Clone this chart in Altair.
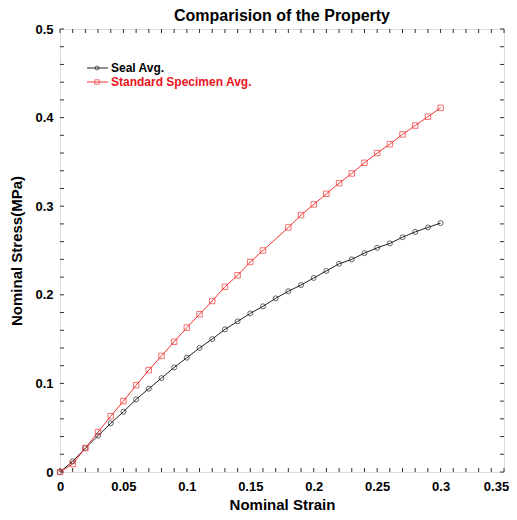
import altair as alt
import pandas as pd

# ---- data ----
seal_strain = [0.00, 0.01, 0.02, 0.03, 0.04, 0.05, 0.06, 0.07, 0.08, 0.09, 0.10,
               0.11, 0.12, 0.13, 0.14, 0.15, 0.16, 0.17, 0.18, 0.19, 0.20,
               0.21, 0.22, 0.23, 0.24, 0.25, 0.26, 0.27, 0.28, 0.29, 0.30]
seal_stress = [0.000, 0.012, 0.027, 0.041, 0.055, 0.068, 0.082, 0.094, 0.106, 0.118, 0.129,
               0.140, 0.150, 0.161, 0.170, 0.179, 0.187, 0.196, 0.204, 0.211, 0.219,
               0.227, 0.235, 0.240, 0.247, 0.253, 0.258, 0.265, 0.271, 0.276, 0.281]

std_strain = [0.00, 0.01, 0.02, 0.03, 0.04, 0.05, 0.06, 0.07, 0.08, 0.09, 0.10,
              0.11, 0.12, 0.13, 0.14, 0.15, 0.16, 0.18, 0.19, 0.20,
              0.21, 0.22, 0.23, 0.24, 0.25, 0.26, 0.27, 0.28, 0.29, 0.30]
std_stress = [0.000, 0.009, 0.027, 0.045, 0.063, 0.080, 0.098, 0.115, 0.131, 0.147, 0.163,
              0.178, 0.193, 0.209, 0.222, 0.237, 0.250, 0.276, 0.290, 0.302,
              0.314, 0.326, 0.337, 0.349, 0.360, 0.370, 0.381, 0.391, 0.401, 0.411]

series_names = ["Seal Avg.", "Standard Specimen Avg."]

x_label_values = [0, 0.05, 0.1, 0.15, 0.2, 0.25, 0.3, 0.35]
y_label_values = [0, 0.1, 0.2, 0.3, 0.4, 0.5]
x_tick_values = [0.00, 0.01, 0.02, 0.03, 0.04, 0.05, 0.06, 0.07, 0.08, 0.09, 0.10,
                 0.11, 0.12, 0.13, 0.14, 0.15, 0.16, 0.17, 0.18, 0.19, 0.20,
                 0.21, 0.22, 0.23, 0.24, 0.25, 0.26, 0.27, 0.28, 0.29, 0.30,
                 0.31, 0.32, 0.33, 0.34, 0.35]
y_tick_values = [0.00, 0.02, 0.04, 0.06, 0.08, 0.10, 0.12, 0.14, 0.16, 0.18, 0.20,
                 0.22, 0.24, 0.26, 0.28, 0.30, 0.32, 0.34, 0.36, 0.38, 0.40,
                 0.42, 0.44, 0.46, 0.48, 0.50]

# ---- styling ----
FONT = "Liberation Sans"
W, H = 444, 443
BLACK = "#222222"
RED = "#f03535"
RED_TEXT = "#e8141c"
TICK = 4

seal_df = pd.DataFrame({"strain": seal_strain, "stress": seal_stress, "series": series_names[0]})
std_df = pd.DataFrame({"strain": std_strain, "stress": std_stress, "series": series_names[1]})
xt_df = pd.DataFrame({"strain": x_tick_values})
yt_df = pd.DataFrame({"stress": y_tick_values})

xscale = alt.Scale(domain=[0, 0.35], nice=False, zero=False)
yscale = alt.Scale(domain=[0, 0.5], nice=False, zero=False)

xaxis = alt.Axis(values=x_label_values, format="~g", ticks=False, domain=False, grid=False,
                 labelFlush=False, labelOverlap=False,
                 labelOffset={"condition": {"test": "datum.value >= 0.34", "value": -8}, "value": 0},
                 labelFont=FONT, labelFontSize=13, labelFontWeight="bold", labelColor="black",
                 labelPadding=8, title="Nominal Strain", titleFont=FONT, titleFontSize=15,
                 titleFontWeight="bold", titleColor="black", titlePadding=4)
yaxis = alt.Axis(values=y_label_values, format="~g", ticks=False, domain=False, grid=False,
                 labelFlush=False, labelOverlap=False,
                 labelFont=FONT, labelFontSize=13, labelFontWeight="bold", labelColor="black",
                 labelPadding=7, title="Nominal Stress(MPa)", titleFont=FONT, titleFontSize=15,
                 titleFontWeight="bold", titleColor="black", titlePadding=10)

X = alt.X("strain:Q", scale=xscale, axis=xaxis)
Y = alt.Y("stress:Q", scale=yscale, axis=yaxis)

# inward ticks on all four sides
tick_bottom = alt.Chart(xt_df).mark_rule(color="#333", strokeWidth=1).encode(
    x=X, y=alt.value(H), y2=alt.value(H - TICK))
tick_top = alt.Chart(xt_df).mark_rule(color="#333", strokeWidth=1).encode(
    x=X, y=alt.value(0), y2=alt.value(TICK))
tick_left = alt.Chart(yt_df).mark_rule(color="#333", strokeWidth=1).encode(
    y=Y, x=alt.value(0), x2=alt.value(TICK))
tick_right = alt.Chart(yt_df).mark_rule(color="#333", strokeWidth=1).encode(
    y=Y, x=alt.value(W), x2=alt.value(W - TICK))

seal_line = alt.Chart(seal_df).mark_line(color=BLACK, strokeWidth=1).encode(x=X, y=Y)
seal_pts = alt.Chart(seal_df).mark_point(shape="circle", filled=False, color=BLACK,
                                         size=25, strokeWidth=1).encode(x=X, y=Y)
std_line = alt.Chart(std_df).mark_line(color=RED, strokeWidth=1).encode(x=X, y=Y)
std_pts = alt.Chart(std_df).mark_point(shape="square", filled=False, color=RED,
                                       size=30, strokeWidth=1).encode(x=X, y=Y)

# legend (drawn manually at top-left inside the plot)
leg1 = pd.DataFrame({"series": [series_names[0]]})
leg2 = pd.DataFrame({"series": [series_names[1]]})
LX0, LX1, LXM, LXT = 27, 48, 37, 51
LY1, LY2 = 39, 53

legend_layers = [
    alt.Chart(leg1).mark_rule(color=BLACK, strokeWidth=1).encode(
        x=alt.value(LX0), x2=alt.value(LX1), y=alt.value(LY1)),
    alt.Chart(leg1).mark_point(shape="circle", filled=False, color=BLACK, size=16, strokeWidth=1).encode(
        x=alt.value(LXM), y=alt.value(LY1)),
    alt.Chart(leg1).mark_text(align="left", baseline="middle", font=FONT, fontSize=12,
                              fontWeight="bold", color="black").encode(
        x=alt.value(LXT), y=alt.value(LY1), text="series:N"),
    alt.Chart(leg2).mark_rule(color=RED, strokeWidth=1).encode(
        x=alt.value(LX0), x2=alt.value(LX1), y=alt.value(LY2)),
    alt.Chart(leg2).mark_point(shape="square", filled=False, color=RED, size=20, strokeWidth=1).encode(
        x=alt.value(LXM), y=alt.value(LY2)),
    alt.Chart(leg2).mark_text(align="left", baseline="middle", font=FONT, fontSize=12,
                              fontWeight="bold", color=RED_TEXT).encode(
        x=alt.value(LXT), y=alt.value(LY2), text="series:N"),
]

chart = alt.layer(
    tick_bottom, tick_top, tick_left, tick_right,
    seal_line, std_line, seal_pts, std_pts,
    *legend_layers
).properties(
    width=W, height=H,
    title=alt.TitleParams("Comparision of the Property", font=FONT, fontSize=16,
                          fontWeight="bold", color="black", anchor="middle", offset=-1),
    autosize=alt.AutoSizeParams(type="none"),
    padding={"left": 52, "top": 21, "right": 5, "bottom": 40},
).configure_view(
    stroke="#333", strokeWidth=1
).configure(background="white")

chart.save("out.html", embed_options={"renderer": "svg", "actions": False})
